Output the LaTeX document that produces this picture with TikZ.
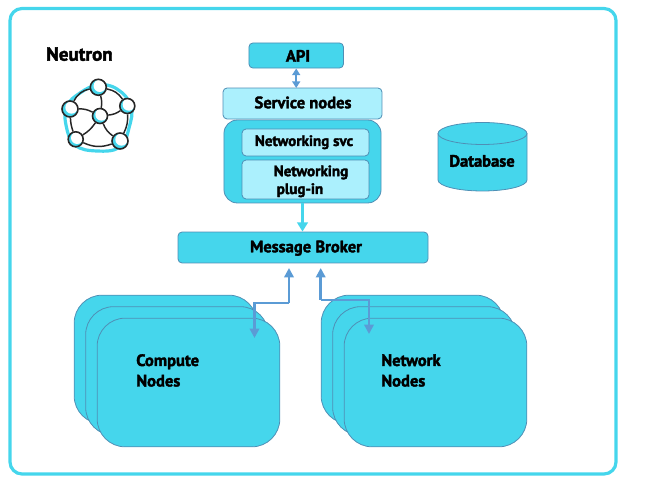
\documentclass[tikz,border=0pt]{standalone}
\usepackage{fontspec}
\setmainfont{PT Sans}[BoldFeatures={FakeBold=2.2}]
\usetikzlibrary{arrows.meta,calc}
\definecolor{cy}{HTML}{45D6EC}
\definecolor{lt}{HTML}{ABF0FD}
\definecolor{edgec}{HTML}{4F8FB5}
\definecolor{arr}{HTML}{5B9BD5}
\tikzset{
  x=0.75pt,y=-0.75pt,
  boxdark/.style={draw=edgec,line width=0.6pt,fill=cy,rounded corners=3pt,inner sep=0,anchor=center},
  boxlight/.style={draw=edgec,line width=0.6pt,fill=lt,rounded corners=3pt,inner sep=0,anchor=center},
  stackbox/.style={draw=edgec,line width=0.6pt,fill=cy,rounded corners=21pt,inner sep=0,minimum width=137pt,minimum height=96.5pt,anchor=center},
  lbl/.style={font=\bfseries\fontsize{12.4}{12.4}\selectfont,inner sep=0,text=black,anchor=base},
  lbls/.style={font=\bfseries\fontsize{11.3}{11.3}\selectfont,inner sep=0,text=black,anchor=base},
  link/.style={draw=arr,line width=2pt,-{Triangle[length=7pt,width=7pt]}},
  linkb/.style={draw=arr,line width=1.5pt,{Triangle[length=5pt,width=6pt]}-{Triangle[length=5pt,width=6pt]}},
  linkc/.style={draw=cy,line width=2pt,-{Triangle[length=7pt,width=8pt]}},
  net/.style={draw=black!85,line width=1.1pt},
  ball/.style={circle,draw=black!85,line width=1.2pt,inner sep=0,
    path picture={\fill[cy] (path picture bounding box.south west) rectangle (path picture bounding box.north east);
                  \fill[white] (path picture bounding box.center) ++(1.5,-1.5) circle[radius=6.2];}},
}
\begin{document}
\begin{tikzpicture}
\useasboundingbox (0,0) rectangle (660,498);
\draw[cy,line width=2.4pt,rounded corners=9pt] (10,8.5) rectangle (616,474);

% title + icon
\node[font=\bfseries\fontsize{14.3}{14.3}\selectfont,inner sep=0,anchor=base west] (title) at (46,60.7) {Neutron};
\draw[cy,line width=2.4pt] plot[smooth cycle,tension=0.7] coordinates
  {(98,85) (117,89) (131,106) (129,128) (120,147) (97,151) (75,145) (66,125) (67,106) (80,93)};
\node[ball,minimum size=15pt*0.75] (n0) at (100,116) {};
\node[ball,minimum size=16pt*0.75] (n1) at (98.3,87.3) {};
\node[ball,minimum size=15pt*0.75] (n2) at (127.3,106) {};
\node[ball,minimum size=16pt*0.75] (n3) at (70,109) {};
\node[ball,minimum size=15pt*0.75] (n4) at (75.7,139.3) {};
\node[ball,minimum size=16pt*0.75] (n5) at (120,141) {};
\draw[net] (n1) to[bend left=22] (n2);
\draw[net] (n2) to[bend left=14] (n5);
\draw[net] (n5) to[bend left=22] (n4);
\draw[net] (n4) to[bend left=8] (n3);
\draw[net] (n3) to[bend left=26] (n1);
\draw[net] (n0) to[bend right=12] (n1);
\draw[net] (n0) to[bend right=14] (n2);
\draw[net] (n0) to[bend right=16] (n5);
\draw[net] (n0) to[bend left=12] (n4);
\draw[net] (n0) to[bend right=14] (n3);

% central boxes
\node[boxdark,minimum width=70.9pt,minimum height=18.8pt] (api) at (296.2,55.5) {};
\node[lbl] (apit) at (298,61.7) {API};
\node[boxlight,minimum width=119.2pt,minimum height=23.2pt] (svc) at (302.5,103.5) {};
\node[lbl] (svct) at (303,108.3) {Service nodes};
\node[boxdark,rounded corners=10pt,minimum width=117.8pt,minimum height=62.2pt] (core) at (302.5,161.5) {};
\node[boxlight,minimum width=95.2pt,minimum height=20.2pt] (nsvc) at (305.5,142.5) {};
\node[lbls] (nsvct) at (304,146) {Networking svc};
\node[boxlight,minimum width=95.2pt,minimum height=29.2pt] (plug) at (305.5,179.5) {};
\node[lbls,anchor=base west] (plugt1) at (273.5,176.2) {Networking};
\node[lbls,anchor=base west] (plugt2) at (276.5,194) {plug-in};
\node[boxdark,minimum width=187.5pt,minimum height=23.2pt] (broker) at (303,247.5) {};
\node[lbl] (brokert) at (306,252.3) {Message Broker};

% database
\draw[draw=edgec,line width=0.6pt,fill=cy] (438,133.5) -- (438,180) arc[start angle=180,end angle=0,x radius=44.5,y radius=11] -- (527,133.5);
\draw[draw=edgec,line width=0.6pt,fill=cy] (482.5,133.5) ellipse[x radius=44.5,y radius=11];
\node[lbl] (dbt) at (482,166.7) {Database};

% stacks
\node[stackbox] (c1) at (165.5,359.5) {};
\node[stackbox] (c2) at (177,371) {};
\node[stackbox] (c3) at (188.5,382.5) {};
\node[stackbox] (w1) at (412.5,359.5) {};
\node[stackbox] (w2) at (424,371) {};
\node[stackbox] (w3) at (435.5,382.5) {};
\node[lbl,anchor=base west] (ct1) at (136,366) {Compute};
\node[lbl,anchor=base west] (ct2) at (136,386.5) {Nodes};
\node[lbl,anchor=base west] (wt1) at (381,366) {Network};
\node[lbl,anchor=base west] (wt2) at (381,386.5) {Nodes};

% connectors
\coordinate (ctop) at (289,268);
\coordinate (cin) at (254.5,338);
\coordinate (wtop) at (320.7,268);
\coordinate (win) at (369,334);
\draw[link] (289,303) -- (ctop);
\draw[link] (289,303) -- (254.5,303) -- (cin);
\draw[link] (320.7,300) -- (wtop);
\draw[link] (320.7,300) -- (369,300) -- (win);
\draw[linkb] (296.2,68.5) -- (296.2,88);
\draw[linkc] (core.south -| 302.5,0) -- (broker.north -| 302.5,0);
\end{tikzpicture}
\end{document}
